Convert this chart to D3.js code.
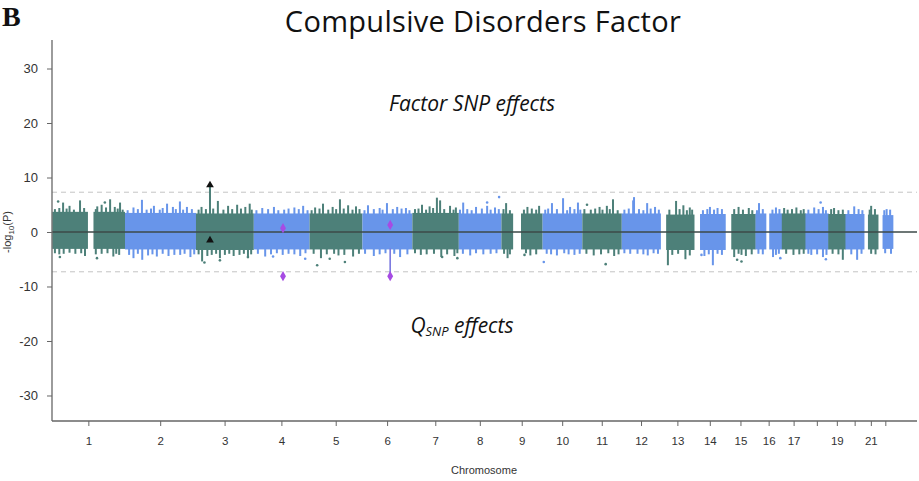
<!DOCTYPE html>
<html>
<head>
<meta charset="utf-8">
<script src="https://cdn.jsdelivr.net/npm/d3@7"></script>
<style>
  html, body { margin: 0; padding: 0; background: #fff; }
  svg { display: block; }
</style>
</head>
<body>
<svg id="chart" width="919" height="481"></svg>
<script>
// ---------------- DATA ----------------
const chromosomes = ["1","2","3","4","5","6","7","8","9","10","11","12","13","14","15","16","17","18","19","20","21","22"];
const chrLengths = [249,243,198,191,181,171,159,146,141,136,135,134,115,107,103,90,81,78,59,63,48,51];
// ranges (Mb, within chromosome) that carry SNPs
const chrSegments = [
  [[1,121],[142,248]], [[1,242]], [[1,197]], [[1,190]], [[1,180]], [[1,170]], [[1,158]], [[1,145]],
  [[1,39],[68,140]], [[1,135]], [[1,134]], [[1,133]], [[19,114]], [[20,106]], [[20,102]],
  [[0,35],[47,90]], [[0,81]], [[0,78]], [[0,59]], [[0,63]], [[14,48]], [[16,51]]
];
// dense band of the plot (upper half: factor SNP effects, lower half: Q_SNP effects)
const bandTop    = [3.7,3.5,3.4,3.4,3.4,3.4,3.5,3.4,3.4,3.4,3.4,3.4,3.2,3.3,3.3,3.4,3.4,3.4,3.3,3.3,3.2,3.1];
const bandBottom = [-3.1,-3.2,-3.3,-3.2,-3.2,-3.2,-3.2,-3.2,-3.2,-3.2,-3.2,-3.2,-3.3,-3.3,-3.2,-3.2,-3.2,-3.2,-3.2,-3.2,-3.2,-3.1];
// tall spikes above / below the band: [Mb within chromosome, -log10(P)]
const upSpikes = [
  [[38,5.4],[60,4.8],[96,5.8],[155,4.7],[170,5.0],[199,6.0],[233,5.4],[215,4.6]],
  [[30,4.5],[59,5.9],[100,4.8],[145,5.2],[165,4.6],[189,5.6],[213,4.6]],
  [[20,4.6],[76,5.7],[111,4.8],[142,5.0],[170,4.6],[185,5.2]],
  [[30,4.4],[70,4.6],[120,4.3],[140,4.5],[170,4.8]],
  [[20,4.5],[47,5.2],[80,4.6],[105,6.0],[133,4.9],[160,4.7]],
  [[20,4.9],[60,4.4],[85,5.3],[120,4.6],[150,4.4]],
  [[34,5.0],[60,4.7],[85,6.3],[96,5.8],[130,4.8],[150,4.5]],
  [[16,5.4],[60,4.6],[98,4.8],[125,4.5]],
  [[17,5.3],[90,4.6],[130,4.8]],
  [[33,5.3],[71,6.2],[95,4.6],[122,5.4]],
  [[60,4.6],[85,4.8],[106,6.0]],
  [[40,5.8],[43,6.4],[88,5.3],[115,4.6]],
  [[53,5.7],[78,4.9],[100,4.5]],
  [[54,4.6],[80,4.4]],
  [[45,4.6],[80,4.4]],
  [[12,5.3],[70,4.5]],
  [[8,4.4],[50,4.5]],
  [[30,4.5],[60,4.6]],
  [[20,4.4]],
  [[30,4.7]],
  [[25,4.8]],
  [[30,4.2]]
];
const downSpikes = [
  [[40,-4.0],[113,-4.4],[170,-4.0],[210,-4.5],[230,-4.2]],
  [[30,-4.8],[60,-5.1],[110,-4.5],[150,-4.4],[190,-4.2],[225,-4.6]],
  [[22,-5.4],[40,-4.4],[83,-4.8],[130,-4.4],[179,-4.8]],
  [[40,-4.5],[100,-4.2],[160,-4.4]],
  [[40,-4.8],[100,-4.3],[150,-4.5]],
  [[40,-4.4],[130,-4.6]],
  [[30,-4.2],[100,-4.6],[145,-4.4]],
  [[40,-4.3],[110,-4.0]],
  [[22,-4.8],[100,-4.3]],
  [[50,-4.3],[110,-4.2]],
  [[40,-4.3],[110,-4.4]],
  [[30,-4.0],[90,-4.3]],
  [[25,-6.1],[85,-5.0]],
  [[35,-4.4],[64,-6.1]],
  [[30,-4.6],[70,-4.4]],
  [[60,-4.6],[80,-4.0]],
  [[40,-4.2]],
  [[20,-4.2],[60,-4.6]],
  [[50,-5.1]],
  [[40,-5.1]],
  [],
  []
];
// short spikes that make the ragged edge of the band
const minorUp = [
  [[10,4.2],[25,4.4],[50,4.3],[75,4.1],[110,4.4],[150,4.2],[185,4.5],[225,4.3],[242,4.1]],
  [[10,4.0],[45,4.2],[75,4.1],[90,4.3],[120,4.1],[130,4.4],[175,4.2],[200,4.1],[230,4.2]],
  [[10,4.1],[35,4.2],[60,4.3],[95,4.1],[125,4.2],[155,4.3],[192,4.1]],
  [[10,4.0],[50,4.2],[85,4.0],[105,4.1],[155,4.2],[185,4.0]],
  [[8,4.0],[35,4.3],[65,4.1],[92,4.2],[118,4.3],[148,4.1],[172,4.2]],
  [[8,4.0],[40,4.2],[70,4.1],[105,4.2],[135,4.3],[162,4.0]],
  [[10,4.2],[22,4.3],[48,4.1],[72,4.4],[110,4.2],[142,4.1]],
  [[5,4.1],[30,4.2],[45,4.0],[80,4.3],[110,4.1],[138,4.2]],
  [[8,4.2],[30,4.0],[78,4.1],[105,4.3],[120,4.1]],
  [[10,4.1],[20,4.3],[50,4.2],[85,4.0],[110,4.2],[130,4.1]],
  [[8,4.2],[30,4.1],[45,4.3],[70,4.1],[95,4.2],[122,4.0]],
  [[10,4.1],[25,4.3],[60,4.2],[75,4.0],[100,4.3],[128,4.1]],
  [[30,4.1],[65,4.2],[90,4.0],[108,4.1]],
  [[30,4.0],[45,4.2],[68,4.1],[95,4.2]],
  [[30,4.2],[60,4.1],[92,4.0]],
  [[5,4.0],[25,4.2],[58,4.1],[82,4.2]],
  [[20,4.1],[35,4.2],[65,4.0],[75,4.2]],
  [[10,4.1],[45,4.2],[70,4.0]],
  [[10,4.2],[35,4.0],[50,4.1]],
  [[10,4.0],[45,4.2],[58,4.0]],
  [[20,4.1],[38,4.2]],
  [[22,4.0],[42,4.1]]
];
const minorDown = [
  [[10,-3.9],[25,-4.1],[60,-3.8],[80,-4.0],[100,-3.9],[150,-4.1],[190,-3.9],[220,-4.0]],
  [[15,-4.2],[45,-4.0],[80,-4.3],[95,-4.1],[130,-4.0],[170,-4.2],[205,-4.0],[238,-4.1]],
  [[10,-4.1],[55,-4.2],[70,-4.0],[100,-4.2],[115,-4.0],[150,-4.2],[165,-4.0],[190,-4.1]],
  [[15,-4.0],[60,-4.1],[80,-3.9],[120,-4.0],[140,-4.1],[178,-3.9]],
  [[15,-4.0],[60,-4.1],[85,-4.0],[120,-4.2],[170,-4.0]],
  [[10,-4.0],[60,-4.1],[80,-3.9],[110,-4.0],[155,-4.1]],
  [[10,-3.9],[50,-4.1],[75,-4.0],[120,-4.1],[155,-3.9]],
  [[15,-4.0],[60,-3.9],[85,-4.1],[130,-3.9]],
  [[10,-4.0],[30,-4.1],[85,-3.9],[120,-4.1]],
  [[15,-4.0],[30,-4.1],[75,-3.9],[90,-4.1],[128,-4.0]],
  [[15,-4.0],[65,-4.1],[90,-3.9],[125,-4.1]],
  [[10,-3.9],[55,-4.0],[75,-4.1],[110,-3.9],[125,-4.0]],
  [[40,-4.2],[60,-4.0],[100,-4.3]],
  [[50,-4.1],[80,-4.0],[95,-4.2]],
  [[45,-4.0],[55,-4.2],[90,-4.1]],
  [[10,-4.0],[25,-4.1],[70,-4.2]],
  [[15,-4.0],[60,-4.1],[75,-4.0]],
  [[10,-4.0],[40,-4.1],[72,-4.2]],
  [[15,-4.0],[35,-4.1]],
  [[20,-4.1],[55,-4.0]],
  [[25,-4.0],[40,-4.1]],
  [[25,-3.9],[45,-4.0]]
];
const outlierDots = [
  [[21,5.6],[181,5.4],[27,-4.6],[154,-4.8]],
  [],
  [[83,-5.2],[179,-4.6],[30,-5.6]],
  [[67,-4.5],[177,-4.9]],
  [[27,-6.1],[122,-5.5],[70,-4.9]],
  [],
  [[103,-4.6],[155,-4.8]],
  [[98,5.4],[139,6.4]],
  [[80,-4.2]],
  [[5,-5.5]],
  [[17,5.0],[81,-5.9]],
  [],
  [],
  [[25,-4.2]],
  [[40,-5.1],[55,-5.4]],
  [[85,-4.8]],
  [],
  [[52,5.4],[70,-5.0]],
  [],
  [],
  [],
  []
];
// highlighted hits
const factorHits = [{chr:"3", pos:49, value:8.6, stem:true}];
const factorHitsLow = [{chr:"3", pos:49, value:-1.5}];
const qsnpHitsUp = [{chr:"4", pos:101, value:0.7}, {chr:"6", pos:96, value:1.3}];
const qsnpHitsDown = [{chr:"4", pos:101, value:-8.1, stem:false}, {chr:"6", pos:96, value:-8.1, stem:true}];
const yTicks = [-30,-20,-10,0,10,20,30];
const xTickLabels = ["1","2","3","4","5","6","7","8","9","10","11","12","13","14","15","16","17","","19","","21",""];
const significance = 7.3;

// ---------------- CHART ----------------
const svg = d3.select("#chart");
const colors = ["#4d8079", "#6895ea"];
const purple = "#a64be3";

const offsets = [];
let acc = 0;
chrLengths.forEach(l => { offsets.push(acc); acc += l; });

const x = d3.scaleLinear().domain([0, 2962]).range([52, 917]);
const y = d3.scaleLinear().domain([-34.68, 35.23]).range([421, 40]);
const gx = (ci, pos) => x(offsets[ci] + pos);
const ci = name => chromosomes.indexOf(name);

// threshold lines
[significance, -significance].forEach(v => {
  svg.append("line").attr("x1", 52).attr("x2", 917).attr("y1", y(v)).attr("y2", y(v))
    .attr("stroke", "#c4c4c4").attr("stroke-width", 1).attr("stroke-dasharray", "5,4");
});

const plot = svg.append("g");
chromosomes.forEach((c, i) => {
  const col = colors[i % 2];
  chrSegments[i].forEach(([a, b]) => {
    const x0 = gx(i, a), x1 = gx(i, b);
    plot.append("rect").attr("x", x0).attr("width", Math.max(1, x1 - x0) + 0.6)
      .attr("y", y(bandTop[i])).attr("height", y(bandBottom[i]) - y(bandTop[i])).attr("fill", col);
  });
  upSpikes[i].concat(minorUp[i]).forEach(([p, v]) => {
    plot.append("rect").attr("x", gx(i, p) - 1).attr("width", 2)
      .attr("y", y(v)).attr("height", y(bandTop[i]) - y(v) + 1).attr("fill", col);
  });
  downSpikes[i].concat(minorDown[i]).forEach(([p, v]) => {
    plot.append("rect").attr("x", gx(i, p) - 1).attr("width", 2)
      .attr("y", y(bandBottom[i]) - 1).attr("height", y(v) - y(bandBottom[i]) + 1).attr("fill", col);
  });
  outlierDots[i].forEach(([p, v]) => {
    plot.append("circle").attr("cx", gx(i, p)).attr("cy", y(v)).attr("r", 1.3).attr("fill", col);
  });
});

// stems for the highlighted hits
factorHits.filter(d => d.stem).forEach(d => {
  const i = ci(d.chr);
  plot.append("rect").attr("x", gx(i, d.pos) - 1).attr("width", 2)
    .attr("y", y(d.value)).attr("height", y(bandTop[i]) - y(d.value) + 1).attr("fill", colors[i % 2]);
});
qsnpHitsDown.filter(d => d.stem).forEach(d => {
  const i = ci(d.chr);
  plot.append("rect").attr("x", gx(i, d.pos) - 0.8).attr("width", 1.6)
    .attr("y", y(bandBottom[i]) - 1).attr("height", y(d.value) - y(bandBottom[i]) + 1).attr("fill", "#7a78e0");
});

// zero line
svg.append("line").attr("x1", 52).attr("x2", 917).attr("y1", y(0)).attr("y2", y(0))
  .attr("stroke", "#3d4a48").attr("stroke-width", 1.3);

// hit symbols
const tri = d3.symbol().type(d3.symbolTriangle).size(26);
const dia = d3.symbol().type(d3.symbolDiamond).size(30);
factorHits.concat(factorHitsLow).forEach(d => {
  const i = ci(d.chr);
  svg.append("path").attr("d", tri).attr("transform", `translate(${gx(i, d.pos)},${y(d.value)})`).attr("fill", "#111");
});
qsnpHitsUp.concat(qsnpHitsDown).forEach(d => {
  const i = ci(d.chr);
  svg.append("path").attr("d", dia).attr("transform", `translate(${gx(i, d.pos)},${y(d.value)})`).attr("fill", purple);
});

// axes
const yAxis = d3.axisLeft(y).tickValues(yTicks).tickSize(5).tickPadding(9).tickFormat(d => String(d));
const gy = svg.append("g").attr("transform", "translate(52,0)").call(yAxis);
gy.select(".domain").attr("d", "M0,40V421").attr("stroke", "#666").attr("stroke-width", 1.3);
gy.selectAll(".tick line").attr("stroke", "#666");
gy.selectAll(".tick text").attr("font-family", "Liberation Sans, Arial, sans-serif").attr("font-size", 13).attr("fill", "#333");

const mids = chromosomes.map((c, i) => offsets[i] + chrLengths[i] / 2);
const xAxis = d3.axisBottom(x).tickValues(mids).tickSize(5).tickPadding(11).tickFormat((d, i) => xTickLabels[i]);
const gxa = svg.append("g").attr("transform", "translate(0,421)").call(xAxis);
gxa.select(".domain").attr("d", "M52,0H917").attr("stroke", "#666").attr("stroke-width", 1.3);
gxa.selectAll(".tick line").attr("stroke", "#666");
gxa.selectAll(".tick text").attr("font-family", "Liberation Sans, Arial, sans-serif").attr("font-size", 11.5).attr("fill", "#333");

// texts
svg.append("text").attr("x", 2).attr("y", 26).text("B")
  .attr("font-family", "Liberation Serif, Times New Roman, serif").attr("font-weight", "bold").attr("font-size", 28).attr("fill", "#111");
svg.append("text").attr("x", 483).attr("y", 32).attr("text-anchor", "middle").text("Compulsive Disorders Factor")
  .attr("font-family", "Open Sans, sans-serif").attr("font-size", 29).attr("letter-spacing", 0.3).attr("fill", "#111");
svg.append("text").attr("x", 472).attr("y", 111).attr("text-anchor", "middle").text("Factor SNP effects")
  .attr("font-family", "Open Sans, sans-serif").attr("font-style", "italic").attr("font-size", 21).attr("fill", "#111");
const q = svg.append("text").attr("x", 462).attr("y", 333).attr("text-anchor", "middle")
  .attr("font-family", "Open Sans, sans-serif").attr("font-style", "italic").attr("font-size", 21).attr("fill", "#111");
q.append("tspan").text("Q");
q.append("tspan").attr("font-size", 13).attr("dy", 3).text("SNP");
q.append("tspan").attr("dy", -3).text(" effects");
svg.append("text").attr("x", 484).attr("y", 474).attr("text-anchor", "middle").text("Chromosome")
  .attr("font-family", "Liberation Sans, Arial, sans-serif").attr("font-size", 11).attr("fill", "#333");
const yl = svg.append("text").attr("transform", "translate(11,232) rotate(-90)").attr("text-anchor", "middle")
  .attr("font-family", "Liberation Sans, Arial, sans-serif").attr("font-size", 11).attr("fill", "#333");
yl.append("tspan").text("-log");
yl.append("tspan").attr("font-size", 8).attr("dy", 3).text("10");
yl.append("tspan").attr("dy", -3).text("(P)");
</script>
</body>
</html>
